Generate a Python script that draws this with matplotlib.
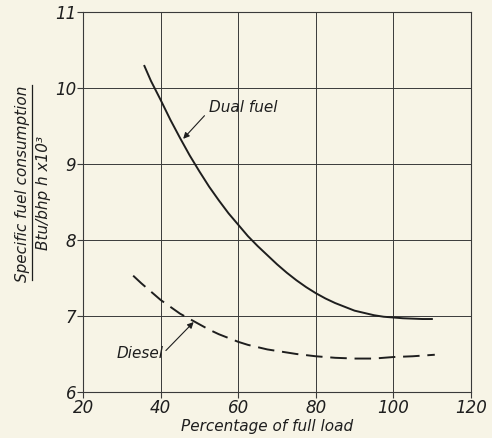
import matplotlib
matplotlib.use("Agg")
from matplotlib import pyplot as plt
from matplotlib.lines import Line2D

# Curve points
dual_x = [35.7, 37.5, 40, 42.5, 45, 47.5, 50, 52.5, 55, 57.5, 60, 62.5, 65, 67.5,
          70, 72.5, 75, 77.5, 80, 82.5, 85, 87.5, 90, 92.5, 95, 97.5, 100,
          102.5, 105, 107.5, 110.2]
dual_y = [10.30, 10.09, 9.84, 9.58, 9.34, 9.11, 8.90, 8.70, 8.52, 8.35, 8.20, 8.05,
          7.92, 7.80, 7.68, 7.57, 7.47, 7.38, 7.30, 7.23, 7.17, 7.12, 7.07, 7.04,
          7.01, 6.99, 6.98, 6.97, 6.965, 6.96, 6.96]

diesel_x = [32.9, 35, 37.5, 40, 42.5, 45, 47.5, 50, 52.5, 55, 57.5, 60, 62.5, 65,
            67.5, 70, 75, 80, 85, 90, 95, 100, 105, 110.7]
diesel_y = [7.53, 7.43, 7.32, 7.21, 7.12, 7.03, 6.96, 6.89, 6.82, 6.76, 6.71, 6.66,
            6.62, 6.59, 6.56, 6.54, 6.50, 6.47, 6.45, 6.44, 6.44, 6.46, 6.47, 6.49]

x_ticks = [20, 40, 60, 80, 100, 120]
y_ticks = [6, 7, 8, 9, 10, 11]

bg = "#f7f4e6"
ink = "#1e1e1e"
plt.rcParams["font.family"] = "DejaVu Sans"
plt.rcParams["font.style"] = "italic"

fig = plt.figure(figsize=(4.92, 4.38), dpi=100, facecolor=bg)
ax = fig.add_axes([0.169, 0.105, 0.788, 0.868])
ax.set_facecolor(bg)

ax.plot(dual_x, dual_y, color=ink, lw=1.4, solid_capstyle="butt")
ax.plot(diesel_x, diesel_y, color=ink, lw=1.4, dashes=(8.5, 4))

ax.set_xlim(20, 120)
ax.set_ylim(6, 11)
ax.set_xticks(x_ticks)
ax.set_yticks(y_ticks)
ax.grid(True, color="#3a3a3a", lw=0.7)
ax.set_axisbelow(True)
for s in ax.spines.values():
    s.set_color("#3a3a3a")
    s.set_linewidth(0.8)
ax.tick_params(direction="out", length=4, width=0.8, color="#3a3a3a",
               labelsize=12, labelcolor=ink, pad=1)

ax.set_xlabel("Percentage of full load", fontsize=11, color=ink)
ax.xaxis.set_label_coords(0.474, -0.07)

# fraction style y label
fig.text(0.045, 0.58, "Specific fuel consumption", rotation=90, fontsize=11,
         color=ink, ha="center", va="center")
fig.text(0.088, 0.56, "Btu/bhp h x10³", rotation=90, fontsize=11,
         color=ink, ha="center", va="center")
fig.add_artist(Line2D([0.066, 0.066], [0.36, 0.805], color=ink, lw=0.9))

ax.annotate("Dual fuel", xy=(45.8, 9.33), xytext=(52.5, 9.74), fontsize=11,
            color=ink, ha="left", va="center",
            arrowprops=dict(arrowstyle="-|>", color=ink, lw=0.8,
                            shrinkA=2, shrinkB=0, mutation_scale=9,
                            relpos=(0.0, 0.3)))
ax.annotate("Diesel", xy=(48.5, 6.92), xytext=(28.5, 6.5), fontsize=11,
            color=ink, ha="left", va="center",
            arrowprops=dict(arrowstyle="-|>", color=ink, lw=0.8,
                            shrinkA=0, shrinkB=0, mutation_scale=9,
                            relpos=(1.05, 0.7)))

fig.savefig("out.png", dpi=100, facecolor=bg)
